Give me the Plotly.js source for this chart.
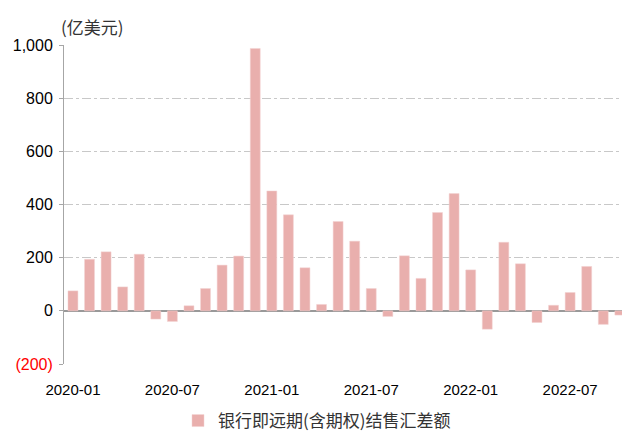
<!DOCTYPE html>
<html>
<head>
<meta charset="utf-8">
<script src="https://cdn.plot.ly/plotly-3.0.1.min.js"></script>
<style>html,body{margin:0;padding:0;background:#fff;}#chart{width:622px;height:433px;}</style>
</head>
<body>
<div id="chart"></div>
<script>
const months = ["2020-01","2020-02","2020-03","2020-04","2020-05","2020-06","2020-07","2020-08","2020-09","2020-10","2020-11","2020-12",
"2021-01","2021-02","2021-03","2021-04","2021-05","2021-06","2021-07","2021-08","2021-09","2021-10","2021-11","2021-12",
"2022-01","2022-02","2022-03","2022-04","2022-05","2022-06","2022-07","2022-08","2022-09","2022-10"];
const values = [75,194,222,90,213,-31,-40,19,84,172,206,987,
451,361,162,24,336,262,84,-21,207,122,370,441,
154,-69,258,177,-44,21,69,167,-51,-16];
const seriesName = "银行即远期(含期权)结售汇差额";
const xTickVals = ["2020-01","2020-07","2021-01","2021-07","2022-01","2022-07"];
const yTickVals = [-200,0,200,400,600,800,1000];
const yTickText = ['<span style="color:#ff0000">(200)</span>',"0","200","400","600","800","1,000"];
const unitLabel = "(亿美元)";

const trace = {
  type: "bar",
  x: months,
  y: values,
  name: seriesName,
  width: 0.6,
  marker: {color: "#E9AFAD", line: {color: "#F3D3D2", width: 0.5}},
  showlegend: true
};

const layout = {
  width: 622, height: 433,
  margin: {l: 64, r: 0, t: 45, b: 69, autoexpand: false},
  paper_bgcolor: "#fff", plot_bgcolor: "#fff",
  font: {family: "Liberation Sans, Arial, sans-serif", size: 15, color: "#000"},
  xaxis: {
    type: "category",
    range: [-0.54, 33.13],
    tickmode: "array",
    tickvals: xTickVals,
    ticktext: xTickVals,
    showgrid: false,
    showline: false,
    zeroline: false,
    ticks: "",
    ticklabelstandoff: 15,
    tickfont: {size: 15, color: "#000"}
  },
  yaxis: {
    range: [-200, 1000],
    tickmode: "array",
    tickvals: yTickVals,
    ticktext: yTickText,
    showgrid: true,
    gridcolor: "#c8c8c8",
    griddash: "dashdot",
    gridwidth: 1,
    zeroline: true,
    zerolinecolor: "#999999",
    zerolinewidth: 2,
    showline: true,
    linecolor: "#a6a6a6",
    linewidth: 1,
    ticks: "outside",
    ticklen: 4,
    tickcolor: "#a6a6a6",
    ticklabelstandoff: 3,
    tickfont: {size: 16, color: "#000"}
  },
  legend: {
    orientation: "h",
    xref: "container", yref: "container",
    x: 178/622, xanchor: "left",
    y: 12/433, yanchor: "middle",
    font: {family: "Noto Sans CJK SC, sans-serif", size: 17, color: "#333"},
    itemwidth: 30
  },
  annotations: [{
    text: unitLabel,
    xref: "paper", yref: "paper",
    x: -0.009, xanchor: "left",
    y: (364 - 27) / 319, yanchor: "middle",
    showarrow: false,
    font: {family: "Noto Sans CJK SC, sans-serif", size: 17, color: "#333"}
  }]
};

Plotly.newPlot("chart", [trace], layout, {displayModeBar: false, staticPlot: true});
</script>
</body>
</html>
